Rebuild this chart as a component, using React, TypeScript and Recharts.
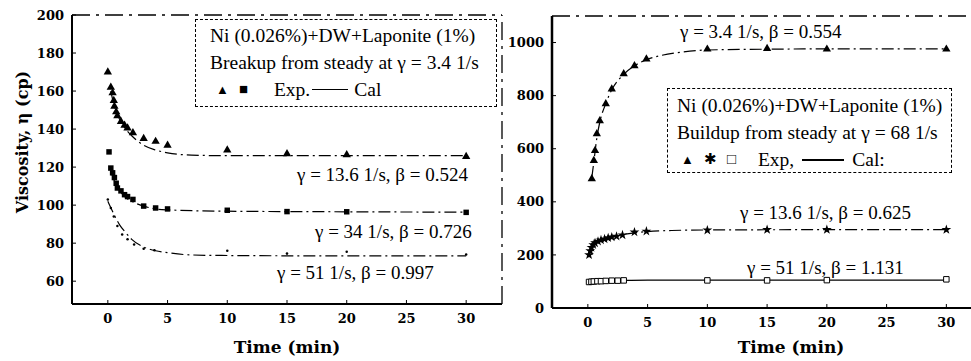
import { ComposedChart, Line, Scatter, XAxis, YAxis, ZAxis, ReferenceLine } from 'recharts';

// shared time axis
const timeTicks = [0, 5, 10, 15, 20, 25, 30];

// left panel: breakup from steady at 3.4 1/s
const breakupTicks = [60, 80, 100, 120, 140, 160, 180, 200];

const b136ExpT = [0, 0.25, 0.4, 0.5, 0.55, 0.7, 0.8, 1.1, 1.4, 1.65, 2.1, 3, 4, 5, 10, 15, 20, 30];
const b136ExpV = [170, 162, 159, 155, 152, 149, 147, 144, 142, 140.5, 138, 135, 133.5, 131.5, 129, 127, 126.5, 125.5];
const b136CalT = [0.25, 0.5, 1, 1.5, 2, 3, 4, 5, 7, 10, 20, 30];
const b136CalV = [160, 153, 145, 140, 136.5, 131.5, 129, 127.5, 126.3, 126, 126, 126];

const b34ExpT = [0.1, 0.25, 0.4, 0.55, 0.7, 0.8, 1.1, 1.4, 1.65, 2.1, 3, 4, 5, 10, 15, 20, 30];
const b34ExpV = [128, 119.5, 117, 114.5, 111.5, 109, 107.5, 105.5, 104.5, 103, 99.5, 98.5, 98, 97.3, 96.6, 96.5, 96.2];
const b34CalT = [0.25, 0.5, 1, 1.5, 2, 3, 4, 5, 10, 20, 30];
const b34CalV = [118, 113.5, 107.5, 104, 102, 99.5, 98, 97.5, 96.8, 96.5, 96.3];

const b51ExpT = [0, 0.25, 0.5, 0.8, 1.2, 1.65, 2.2, 3, 3.9, 10, 15, 20, 30];
const b51ExpV = [103, 98.5, 94, 89, 84.5, 82, 79.3, 77, 76.3, 76, 74.5, 75.5, 74];
const b51CalT = [0, 0.3, 0.6, 1, 1.5, 2, 3, 4, 5, 7, 10, 20, 30];
const b51CalV = [102, 98, 94, 89.5, 85.5, 82, 78, 76, 75, 73.8, 73.5, 73.3, 73.3];

// right panel: buildup from steady at 68 1/s
const buildupTicks = [0, 200, 400, 600, 800, 1000];

const u34ExpT = [0.33, 0.5, 0.6, 0.75, 1, 1.5, 2, 3, 3.9, 4.9, 10, 15, 20, 30];
const u34ExpV = [487, 555, 593, 656, 705, 769, 825, 882, 912, 938, 975, 977, 975, 975];
const u34CalT = [0.33, 0.5, 0.75, 1, 1.5, 2, 3, 4, 5, 6, 8, 10, 15, 20, 30];
const u34CalV = [490, 550, 640, 700, 770, 822, 880, 915, 937, 950, 965, 972, 975, 976, 976];

const u136ExpT = [0.1, 0.2, 0.3, 0.45, 0.6, 0.85, 1.1, 1.4, 1.7, 2, 2.4, 2.9, 3.9, 4.9, 10, 15, 20, 30];
const u136ExpV = [200, 215, 228, 238, 245, 251, 256, 260, 264, 267, 270, 275, 286, 289, 293, 295, 295, 295];
const u136CalT = [0.1, 0.5, 1, 2, 3, 4, 5, 7, 10, 20, 30];
const u136CalV = [205, 240, 255, 268, 277, 284, 288, 292, 294, 295, 295];

const u51ExpT = [0.1, 0.3, 0.5, 0.8, 1.1, 1.5, 2, 2.5, 3, 10, 15, 20, 30];
const u51ExpV = [98, 99, 100, 101, 101, 102, 103, 103, 104, 104, 104, 105, 108];
const u51CalT = [0, 1, 3, 5, 10, 20, 30];
const u51CalV = [100, 102, 104, 105, 105, 105, 105];

const rows = (t: number[], v: number[]) => t.map((x, i) => ({ t: x, v: v[i] }));

const serif = '"Liberation Serif", "Times New Roman", serif';
const tickFont = '"DejaVu Serif", serif';
const tickStyle = { fill: '#000', fontSize: 13, fontWeight: 700, fontFamily: tickFont };
const calDash = '12 4 2 4';

const noteStyle = { position: 'absolute' as const, fontFamily: serif, fontSize: 19, whiteSpace: 'nowrap' as const, lineHeight: '20px' };
const boxStyle = { position: 'absolute' as const, border: '1.5px dashed #000', background: '#fff', fontFamily: serif, fontSize: 19.5, lineHeight: '27px', whiteSpace: 'nowrap' as const, boxSizing: 'border-box' as const };

export default function App() {
  return (
    <div style={{ position: 'absolute', left: 0, top: 0, width: 971, height: 361, background: '#fff', overflow: 'hidden' }}>
      <div style={{ position: 'absolute', left: 0, top: 0 }}>
        <ComposedChart width={504} height={361} margin={{ top: 15, right: 2, left: 0, bottom: 0 }}>
          <XAxis
            type="number"
            dataKey="t"
            domain={[-3, 33]}
            ticks={timeTicks}
            height={57}
            tick={tickStyle}
            tickSize={-4}
            tickMargin={14}
            axisLine={{ stroke: '#000', strokeWidth: 2 }}
            tickLine={{ stroke: '#000' }}
            label={{ value: 'Time (min)', position: 'insideBottom', offset: 8, style: { fill: '#000', fontSize: 17, fontWeight: 700, fontFamily: tickFont } }}
          />
          <YAxis
            type="number"
            dataKey="v"
            domain={[48, 200]}
            ticks={breakupTicks}
            width={72}
            tick={tickStyle}
            tickSize={-4}
            tickMargin={12}
            axisLine={{ stroke: '#000', strokeWidth: 2 }}
            tickLine={{ stroke: '#000' }}
            allowDataOverflow
          />
          <ZAxis range={[30, 30]} />
          <ZAxis zAxisId="tiny" range={[5, 5]} />
          <ReferenceLine y={200} stroke="#000" strokeWidth={1.3} strokeDasharray="18 6 3 6" />
          <ReferenceLine x={33} stroke="#000" strokeWidth={1.3} strokeDasharray="18 6 3 6" />
          <Line data={rows(b136CalT, b136CalV)} dataKey="v" type="monotone" dot={false} stroke="#000" strokeWidth={1.2} strokeDasharray={calDash} isAnimationActive={false} />
          <Line data={rows(b34CalT, b34CalV)} dataKey="v" type="monotone" dot={false} stroke="#000" strokeWidth={1.2} strokeDasharray={calDash} isAnimationActive={false} />
          <Line data={rows(b51CalT, b51CalV)} dataKey="v" type="monotone" dot={false} stroke="#000" strokeWidth={1.2} strokeDasharray={calDash} isAnimationActive={false} />
          <Scatter data={rows(b136ExpT, b136ExpV)} dataKey="v" shape="triangle" fill="#000" isAnimationActive={false} />
          <Scatter data={rows(b34ExpT, b34ExpV)} dataKey="v" shape="square" fill="#000" isAnimationActive={false} />
          <Scatter data={rows(b51ExpT, b51ExpV)} dataKey="v" zAxisId="tiny" shape="circle" fill="#000" isAnimationActive={false} />
        </ComposedChart>
      </div>

      <div style={{ position: 'absolute', left: 504, top: 0 }}>
        <ComposedChart width={526} height={361} margin={{ top: 16, right: 0, left: 0, bottom: 0 }}>
          <XAxis
            type="number"
            dataKey="t"
            domain={[-3, 37]}
            ticks={timeTicks}
            height={53}
            tick={tickStyle}
            tickSize={-4}
            tickMargin={14}
            axisLine={{ stroke: '#000', strokeWidth: 2 }}
            tickLine={{ stroke: '#000' }}
            label={{ value: 'Time (min)', position: 'insideBottom', offset: 8, style: { fill: '#000', fontSize: 17, fontWeight: 700, fontFamily: tickFont } }}
          />
          <YAxis
            type="number"
            dataKey="v"
            domain={[0, 1100]}
            ticks={buildupTicks}
            width={48}
            tick={tickStyle}
            tickSize={-4}
            tickMargin={12}
            axisLine={{ stroke: '#000', strokeWidth: 2.5 }}
            tickLine={{ stroke: '#000' }}
            allowDataOverflow
          />
          <ZAxis range={[30, 30]} />
          <ReferenceLine y={1100} stroke="#000" strokeWidth={1.3} strokeDasharray="18 6 3 6" />
          <Line data={rows(u34CalT, u34CalV)} dataKey="v" type="monotone" dot={false} stroke="#000" strokeWidth={1.2} strokeDasharray={calDash} isAnimationActive={false} />
          <Line data={rows(u136CalT, u136CalV)} dataKey="v" type="monotone" dot={false} stroke="#000" strokeWidth={1.2} strokeDasharray={calDash} isAnimationActive={false} />
          <Line data={rows(u51CalT, u51CalV)} dataKey="v" type="monotone" dot={false} stroke="#000" strokeWidth={1.2} isAnimationActive={false} />
          <Scatter data={rows(u34ExpT, u34ExpV)} dataKey="v" shape="triangle" fill="#000" isAnimationActive={false} />
          <Scatter data={rows(u136ExpT, u136ExpV)} dataKey="v" shape="star" fill="#000" isAnimationActive={false} />
          <Scatter data={rows(u51ExpT, u51ExpV)} dataKey="v" shape="square" fill="#fff" stroke="#000" strokeWidth={1} isAnimationActive={false} />
        </ComposedChart>
      </div>

      {/* y axis title, left panel */}
      <div style={{ position: 'absolute', left: 22, top: 142, transform: 'translate(-50%, -50%) rotate(-90deg)', fontFamily: tickFont, fontWeight: 700, fontSize: 16, whiteSpace: 'nowrap' }}>
        Viscosity, η (cp)
      </div>

      {/* legend boxes */}
      <div style={{ ...boxStyle, left: 195, top: 19, width: 302, height: 88, paddingLeft: 14, paddingTop: 2 }}>
        <div>Ni (0.026%)+DW+Laponite (1%)</div>
        <div>Breakup from steady at γ = 3.4 1/s</div>
        <div style={{ display: 'flex', alignItems: 'center' }}>
          <span style={{ fontSize: 13, marginLeft: 6 }}>▲</span>
          <span style={{ fontSize: 15, marginLeft: 10 }}>■</span>
          <span style={{ marginLeft: 26 }}>Exp.</span>
          <span style={{ display: 'inline-block', width: 36, borderTop: '1.5px solid #000', marginLeft: 2, marginRight: 6 }} />
          <span>Cal</span>
        </div>
      </div>
      <div style={{ ...boxStyle, left: 667, top: 88, width: 285, height: 85, paddingLeft: 9, paddingTop: 3 }}>
        <div>Ni (0.026%)+DW+Laponite (1%)</div>
        <div>Buildup from steady at γ = 68 1/s</div>
        <div style={{ display: 'flex', alignItems: 'center' }}>
          <span style={{ fontSize: 13, marginLeft: 4 }}>▲</span>
          <span style={{ fontSize: 15, marginLeft: 10 }}>✱</span>
          <span style={{ fontSize: 15, marginLeft: 10 }}>□</span>
          <span style={{ marginLeft: 22 }}>Exp,</span>
          <span style={{ display: 'inline-block', width: 42, borderTop: '2px solid #000', marginLeft: 8, marginRight: 8 }} />
          <span>Cal:</span>
        </div>
      </div>

      {/* curve annotations */}
      <div style={{ ...noteStyle, left: 297, top: 165 }}>γ = 13.6 1/s, β = 0.524</div>
      <div style={{ ...noteStyle, left: 315, top: 222 }}>γ = 34 1/s, β = 0.726</div>
      <div style={{ ...noteStyle, left: 277, top: 263 }}>γ = 51 1/s, β = 0.997</div>
      <div style={{ ...noteStyle, left: 680, top: 22 }}>γ = 3.4 1/s, β = 0.554</div>
      <div style={{ ...noteStyle, left: 740, top: 203 }}>γ = 13.6 1/s, β = 0.625</div>
      <div style={{ ...noteStyle, left: 747, top: 258 }}>γ = 51 1/s, β = 1.131</div>
    </div>
  );
}
